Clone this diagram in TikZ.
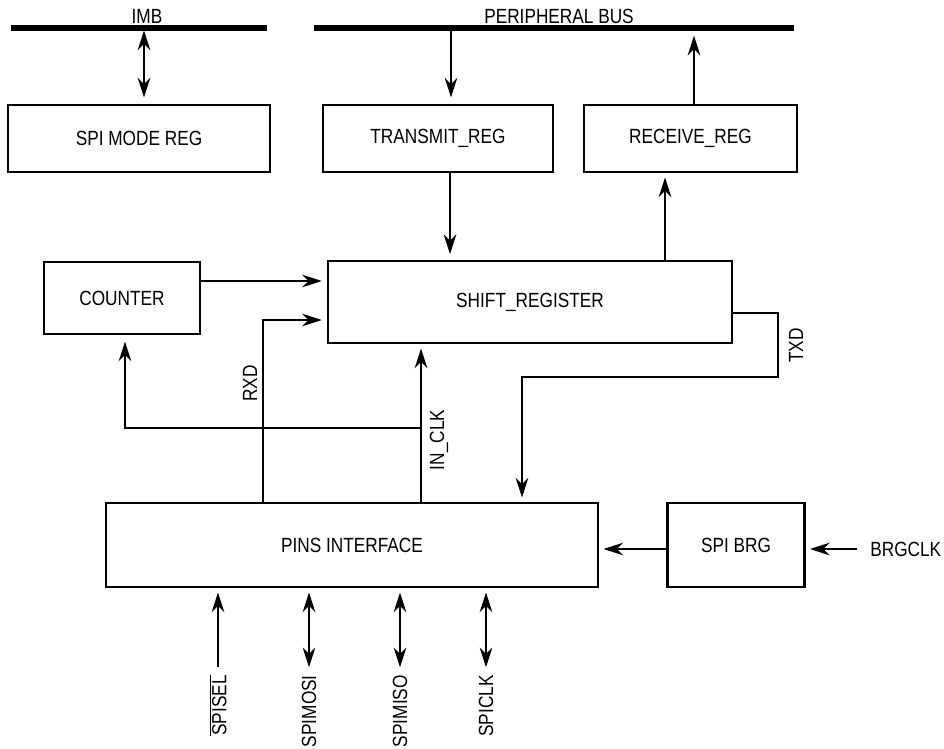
\documentclass[tikz,border=0pt]{standalone}
\usepackage{fontspec}
\setmainfont{Liberation Sans}[FakeStretch=0.84]
\usetikzlibrary{arrows.meta}

\begin{document}
\begin{tikzpicture}[x=0.025cm, y=-0.025cm,
    >={Stealth[length=14pt, width=9pt, inset=4.5pt]},
    font=\fontsize{14.6}{17}\selectfont,
    blk/.style={draw, line width=1.8pt, inner sep=0pt},
    sig/.style={line width=0.9pt, shorten >=3pt},
    bus/.style={line width=3.6pt},
    lbl/.style={inner sep=0pt, rotate=90}]
    \useasboundingbox (0,0) rectangle (944,748);

    % Hai đường bus phía trên
    \coordinate (imbL) at (11,28);
    \coordinate (imbR) at (267,28);
    \coordinate (pbL) at (314,28);
    \coordinate (pbR) at (794,28);
    \draw[bus] (imbL) -- (imbR);
    \draw[bus] (pbL) -- (pbR);
    \node[inner sep=0pt, anchor=base] (imb) at (147,24) {IMB};
    \node[inner sep=0pt, anchor=base] (pbus) at (559,24) {PERIPHERAL BUS};

    % Các khối
    \node[blk, minimum width=6.55cm, minimum height=1.675cm] (mode) at (139,138.5) {SPI MODE REG};
    \node[blk, minimum width=5.75cm, minimum height=1.675cm] (tx) at (438,138.5) {TRANSMIT\_REG};
    \node[blk, minimum width=5.325cm, minimum height=1.675cm] (rx) at (690.5,138.5) {RECEIVE\_REG};
    \node[blk, minimum width=10.1cm, minimum height=2.05cm] (shift) at (530,302) {SHIFT\_REGISTER};
    \node[blk, minimum width=3.9cm, minimum height=1.8cm] (counter) at (122,298) {COUNTER};
    \node[blk, minimum width=12.3cm, minimum height=2.1cm] (pins) at (352,545) {PINS INTERFACE};
    \node[blk, minimum width=3.425cm, minimum height=2.1cm] (brg) at (736,545) {SPI BRG};
    \node[inner sep=0pt, anchor=west] (brgclk) at (870,549) {BRGCLK};

    % Nối với bus
    \coordinate (imbM) at (144,28);
    \coordinate (pbT) at (451,28);
    \coordinate (pbU) at (694,28);
    \draw[sig, <->, shorten <=1.8pt, shorten >=4.5pt] (imbM) -- (imbM |- mode.north);
    \draw[sig, ->, shorten >=4.5pt] (pbT) -- (pbT |- tx.north);
    \draw[sig, ->, shorten >=5.5pt] (pbU |- rx.north) -- (pbU);

    % Thanh ghi dịch
    \draw[sig, ->, shorten >=4pt] ([xshift=0.3cm]tx.south) -- ([xshift=0.3cm]tx.south |- shift.north);
    \draw[sig, ->] ([xshift=3.375cm]shift.north) -- ([xshift=3.375cm]shift.north |- rx.south);
    \draw[sig, ->, shorten >=3.5pt] ([yshift=0.425cm]counter.east) -- ([yshift=0.425cm]counter.east -| shift.west);

    % RXD, IN_CLK, TXD
    \draw[sig, ->, shorten >=3.5pt] ([xshift=-2.225cm]pins.north) |- ([yshift=-0.45cm]shift.west);
    \node[lbl] (rxd) at (250,383.5) {RXD};
    \coordinate (clk) at ([xshift=1.725cm]pins.north);
    \draw[sig, ->] (clk) -- (clk |- shift.south);
    \node[lbl] (inclk) at (439,440) {IN\_CLK};
    \coordinate (fb) at (421,428);
    \draw[sig, ->, shorten >=4.5pt] (fb) -| ([xshift=0.075cm]counter.south);
    \coordinate (txa) at (778,377);
    \coordinate (txb) at (522,377);
    \draw[sig, ->] ([yshift=-0.275cm]shift.east) -| (txa) -- (txb) -- (txb |- pins.north);
    \node[lbl] (txd) at (796,345.5) {TXD};

    % Bộ tạo tốc độ baud
    \draw[sig, ->] ([yshift=-0.1cm]brg.west) -- ([yshift=-0.1cm]brg.west -| pins.east);
    \draw[sig, ->, shorten <=9pt] (brgclk.west) -- (brgclk.west -| brg.east);

    % Các chân SPI
    \node[lbl, anchor=east] (spisel) at (218,675) {$\overline{\hbox{SPISEL}}$};
    \node[lbl, anchor=east] (mosi) at (309,675) {SPIMOSI};
    \node[lbl, anchor=east] (miso) at (400,675) {SPIMISO};
    \node[lbl, anchor=east] (sclk) at (486,675) {SPICLK};
    \draw[sig, ->, shorten <=5.5pt] (spisel.east) -- (spisel.east |- pins.south);
    \draw[sig, <->, shorten <=5.5pt] (mosi.east) -- (mosi.east |- pins.south);
    \draw[sig, <->, shorten <=5.5pt] (miso.east) -- (miso.east |- pins.south);
    \draw[sig, <->, shorten <=5.5pt] (sclk.east) -- (sclk.east |- pins.south);
\end{tikzpicture}
\end{document}
